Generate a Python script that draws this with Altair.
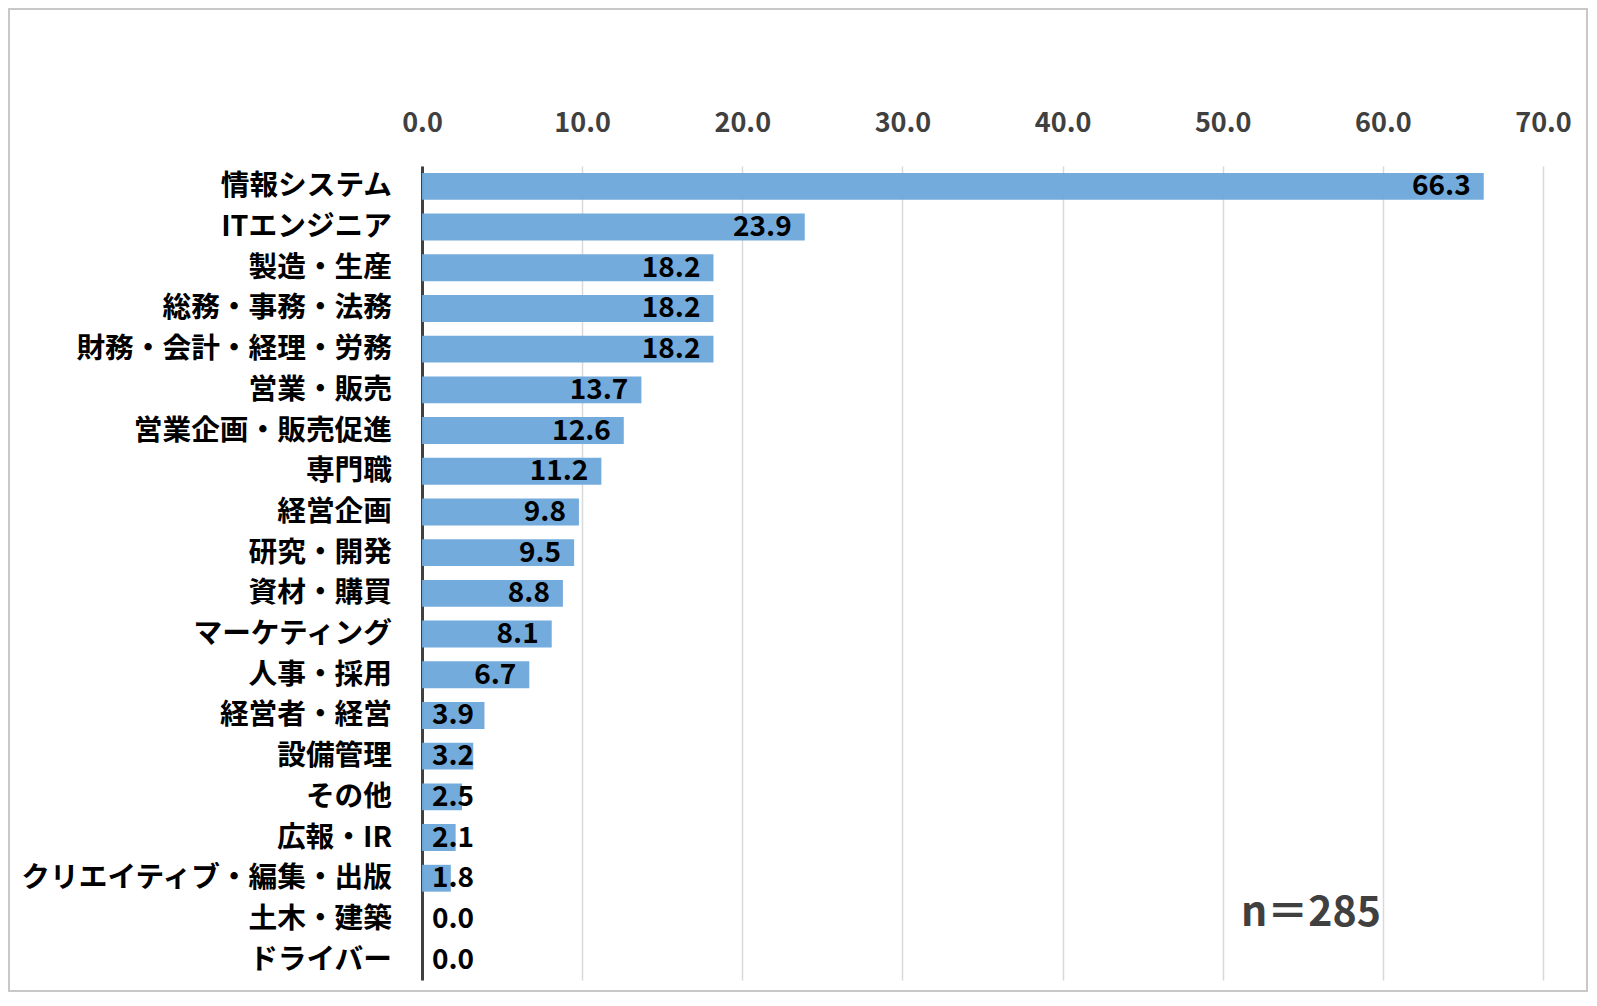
import altair as alt
import pandas as pd

categories = ["情報システム", "ITエンジニア", "製造・生産", "総務・事務・法務", "財務・会計・経理・労務",
              "営業・販売", "営業企画・販売促進", "専門職", "経営企画", "研究・開発", "資材・購買",
              "マーケティング", "人事・採用", "経営者・経営", "設備管理", "その他", "広報・IR",
              "クリエイティブ・編集・出版", "土木・建築", "ドライバー"]
values = [66.3, 23.9, 18.2, 18.2, 18.2, 13.7, 12.6, 11.2, 9.8, 9.5, 8.8,
          8.1, 6.7, 3.9, 3.2, 2.5, 2.1, 1.8, 0.0, 0.0]
x_ticks = [0, 10, 20, 30, 40, 50, 60, 70]
note = "n＝285"

df = pd.DataFrame({"cat": categories, "val": values})
df["label"] = [f"{v:.1f}" for v in values]

FONT = "Noto Sans CJK JP"
W, H = 1121, 814

y_enc = alt.Y("cat:N", sort=categories, title=None,
              scale=alt.Scale(paddingInner=0.34, paddingOuter=0.17),
              axis=alt.Axis(labelFont=FONT, labelFontSize=28.7, labelFontWeight="bold",
                            labelColor="#000000", labelPadding=30.5, ticks=False,
                            domainColor="#404040", domainWidth=3, grid=False,
                            labelLimit=500))
x_enc = alt.X("val:Q", title=None,
              scale=alt.Scale(domain=[0, 70], nice=False),
              axis=alt.Axis(orient="top", values=x_ticks, format=".1f", labelFlush=False,
                            labelFont=FONT, labelFontSize=27, labelFontWeight="bold",
                            labelColor="#404040", labelPadding=28.5, ticks=False,
                            domain=False, grid=True, gridColor="#d9d9d9", gridWidth=1.5))

base = alt.Chart(df)
bars = base.mark_bar(color="#6fa8dc", opacity=0.97).encode(x=x_enc, y=y_enc)
text = base.transform_calculate(
    lx="max(datum.val, 4.06)"
).mark_text(align="right", baseline="middle", dx=-13, dy=1, font=FONT,
            fontSize=28, fontWeight="bold", color="#000000").encode(
    x=alt.X("lx:Q"), y=alt.Y("cat:N", sort=categories), text="label:N")

note_layer = alt.Chart(alt.Data(values=[{"t": note}])).mark_text(
    font=FONT, fontSize=41, fontWeight="bold", color="#404040",
    align="center", baseline="middle").encode(
    x=alt.value(889), y=alt.value(748), text="t:N")

border = alt.Chart(alt.Data(values=[{"a": 1}])).mark_rect(
    fill=None, stroke="#c8c8c8", strokeWidth=2).encode(
    x=alt.value(-413), x2=alt.value(1165), y=alt.value(-157), y2=alt.value(825))

chart = alt.layer(bars, text, note_layer, border).properties(
    width=W, height=H,
    autosize=alt.AutoSizeParams(type="none"),
    padding={"left": 414, "top": 158, "right": 46, "bottom": 13},
    background="#ffffff"
).configure_view(stroke=None)

chart.save("out.html", embed_options={"renderer": "svg", "actions": False})
